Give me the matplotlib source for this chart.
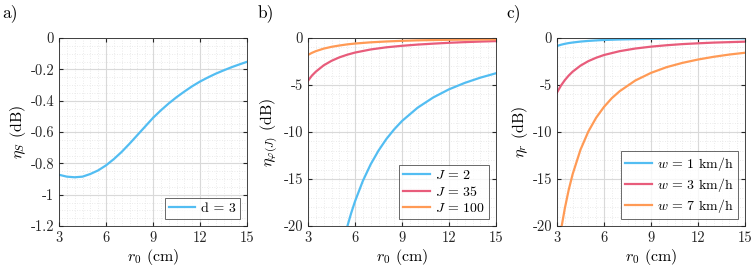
import matplotlib
matplotlib.use("Agg")
import matplotlib.pyplot as plt
from matplotlib.ticker import MultipleLocator

plt.rcParams['font.family'] = 'serif'
plt.rcParams['font.serif'] = ['cmr10', 'DejaVu Serif']
plt.rcParams['mathtext.fontset'] = 'cm'
plt.rcParams['axes.unicode_minus'] = False
plt.rcParams['axes.formatter.use_mathtext'] = False

# a) eta_S for d = 3
r_a = [3, 3.5, 4, 4.5, 5, 5.5, 6, 6.5, 7, 7.5, 8, 8.5, 9, 9.5, 10, 10.5, 11,
       11.5, 12, 12.5, 13, 13.5, 14, 14.5, 15]
eta_s = [-0.873, -0.885, -0.889, -0.885, -0.868, -0.845, -0.813, -0.773, -0.727,
         -0.675, -0.62, -0.565, -0.51, -0.462, -0.418, -0.378, -0.342, -0.308,
         -0.278, -0.252, -0.228, -0.207, -0.187, -0.169, -0.152]

# b) eta_phi(J)
r_j2 = [5.4, 5.5, 5.75, 6, 6.5, 7, 7.5, 8, 8.5, 9, 10, 11, 12, 13, 14, 15]
eta_j2 = [-20.7, -20.1, -18.66, -17.38, -15.21, -13.44, -11.98, -10.75, -9.72,
          -8.83, -7.41, -6.32, -5.46, -4.78, -4.22, -3.75]
r_j = [3, 3.25, 3.5, 4, 4.5, 5, 5.5, 6, 7, 8, 9, 10, 11, 12, 13, 14, 15]
eta_j35 = [-4.55, -4.0, -3.58, -2.91, -2.43, -2.06, -1.78, -1.55, -1.22, -0.99,
           -0.83, -0.7, -0.6, -0.51, -0.44, -0.38, -0.33]
eta_j100 = [-1.8, -1.58, -1.4, -1.13, -0.94, -0.8, -0.68, -0.59, -0.46, -0.37,
            -0.3, -0.25, -0.22, -0.19, -0.17, -0.155, -0.14]

# c) eta_r for walking speeds
r_w = [3, 3.25, 3.5, 3.75, 4, 4.5, 5, 5.5, 6, 7, 8, 9, 10, 11, 12, 13, 14, 15]
eta_w1 = [-0.85, -0.72, -0.62, -0.54, -0.48, -0.38, -0.31, -0.255, -0.21,
          -0.156, -0.12, -0.094, -0.077, -0.064, -0.053, -0.045, -0.039, -0.034]
eta_w3 = [-5.8, -5.07, -4.48, -3.99, -3.58, -2.94, -2.46, -2.1, -1.81, -1.4,
          -1.12, -0.92, -0.77, -0.65, -0.565, -0.49, -0.44, -0.39]
r_w7 = [3.25, 3.3, 3.5, 3.75, 4, 4.5, 5, 5.5, 6, 6.5, 7, 8, 9, 10, 11, 12, 13,
        14, 15]
eta_w7 = [-20.52, -20.0, -18.12, -16.13, -14.48, -11.88, -9.95, -8.48, -7.33,
          -6.4, -5.66, -4.52, -3.71, -3.1, -2.65, -2.29, -2.0, -1.76, -1.57]

c_blue = '#52BDF2'
c_red = '#E85C7B'
c_orange = '#FF9A55'

fig = plt.figure(figsize=(7.53, 2.69), dpi=100)
lefts = [59 / 753, 308 / 753, 557 / 753]
axs = [fig.add_axes([l, 43 / 269, 188 / 753, 188 / 269]) for l in lefts]


def style(ax, ylim, ymajor, yminor):
    ax.set_xlim(3, 15)
    ax.set_ylim(*ylim)
    ax.xaxis.set_major_locator(MultipleLocator(3))
    ax.xaxis.set_minor_locator(MultipleLocator(0.5))
    ax.yaxis.set_major_locator(MultipleLocator(ymajor))
    ax.yaxis.set_minor_locator(MultipleLocator(yminor))
    ax.grid(which='major', color='#d9d9d9', lw=0.8)
    ax.grid(which='minor', color='#e4e4e4', lw=0.6, ls=(0, (1, 2)))
    ax.set_axisbelow(True)
    ax.tick_params(which='both', direction='in', top=True, right=True,
                   labelsize=10.5, colors='#262626', length=3)
    ax.tick_params(which='minor', length=0)
    for s in ax.spines.values():
        s.set_color('#262626')
        s.set_linewidth(0.6)
    ax.set_xlabel('$r_0$ (cm)', fontsize=11.5, labelpad=2)


ax = axs[0]
ax.plot(r_a, eta_s, color=c_blue, lw=1.6, label='d = 3')
style(ax, (-1.2, 0), 0.2, 0.05)
ax.yaxis.set_major_formatter(lambda v, p: '0' if abs(v) < 1e-9 else
                             ('%g' % round(v, 1)))
ax.set_ylabel(r'$\eta_S$ (dB)', fontsize=11.5, labelpad=2)

ax = axs[1]
ax.plot(r_j2, eta_j2, color=c_blue, lw=1.6, label='$J\\,=\\,2$')
ax.plot(r_j, eta_j35, color=c_red, lw=1.6, label='$J\\,=\\,35$')
ax.plot(r_j, eta_j100, color=c_orange, lw=1.6, label='$J\\,=\\,100$')
style(ax, (-20, 0), 5, 1)
ax.set_ylabel(r'$\eta_{\varphi(J)}$ (dB)', fontsize=11.5, labelpad=2)

ax = axs[2]
ax.plot(r_w, eta_w1, color=c_blue, lw=1.6, label='$w\\,=\\,1$ km/h')
ax.plot(r_w, eta_w3, color=c_red, lw=1.6, label='$w\\,=\\,3$ km/h')
ax.plot(r_w7, eta_w7, color=c_orange, lw=1.6, label='$w\\,=\\,7$ km/h')
style(ax, (-20, 0), 5, 1)
ax.set_ylabel(r'$\eta_r$ (dB)', fontsize=11.5, labelpad=2)

for ax in axs:
    leg = ax.legend(loc='lower right', fontsize=10, frameon=True, fancybox=False,
                    borderaxespad=0.5, handlelength=1.9, handletextpad=0.4,
                    borderpad=0.3, labelspacing=0.2)
    leg.get_frame().set_edgecolor('#262626')
    leg.get_frame().set_linewidth(0.6)

for lbl, x in zip(['a)', 'b)', 'c)'], [2, 258, 506]):
    fig.text(x / 753, 1 - 13 / 269, lbl, fontsize=12.5, va='center', ha='left')

fig.savefig('out.png', dpi=100)
